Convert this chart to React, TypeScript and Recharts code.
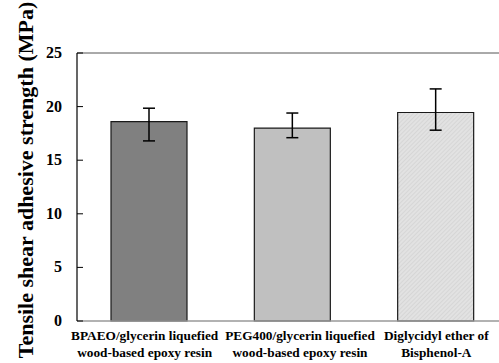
import { BarChart, Bar, XAxis, YAxis, ErrorBar, ReferenceLine, Cell } from 'recharts';

const categories = ['BPAEO', 'PEG400', 'DGEBA'];
const labelLine1 = ['BPAEO/glycerin liquefied', 'PEG400/glycerin liquefied', 'Diglycidyl ether of'];
const labelLine2 = ['wood-based epoxy resin', 'wood-based epoxy resin', 'Bisphenol-A'];
const strength = [18.6, 18.0, 19.45];
const errLow = [1.8, 0.9, 1.65];
const errHigh = [1.25, 1.4, 2.2];
const yTicks = [0, 5, 10, 15, 20, 25];

const fills = ['#808080', '#c0c0c0', 'url(#hatch)'];
// the original labels are not quite centred under their bars
const labelShift = [-4, 8, 1];

const data = categories.map((c, i) => ({
  name: c,
  value: strength[i],
  err: [errLow[i], errHigh[i]],
}));

const FONT = '"Liberation Serif", "Times New Roman", serif';

function XTick({ x, y, payload }: any) {
  const i = payload.index;
  const cx = x + labelShift[i];
  return (
    <g>
      <text x={cx} y={y + 11} textAnchor="middle" fontFamily={FONT} fontWeight="bold" fontSize={13.3} fill="#000">
        {labelLine1[i]}
      </text>
      <text x={cx} y={y + 28} textAnchor="middle" fontFamily={FONT} fontWeight="bold" fontSize={13.3} fill="#000">
        {labelLine2[i]}
      </text>
    </g>
  );
}

function YTick({ x, y, payload }: any) {
  return (
    <g>
      <line x1={x + 15} x2={x + 21} y1={y} y2={y} stroke="#000" strokeWidth={1} />
      <text x={x} y={y} dy={5} textAnchor="end" fontFamily={FONT} fontWeight="bold" fontSize={16} fill="#000">
        {payload.value}
      </text>
    </g>
  );
}

function YLabel() {
  return (
    <text
      transform="translate(33, 180) rotate(-90)"
      textAnchor="middle"
      fontFamily={FONT}
      fontWeight="bold"
      fontSize={22}
      fill="#000"
    >
      Tensile shear adhesive strength (MPa)
    </text>
  );
}

export default function App() {
  return (
    <div style={{ position: 'absolute', left: 0, top: 0, width: 499, height: 363, overflow: 'hidden', background: '#fff' }}>
      <BarChart
        width={510}
        height={363}
        data={data}
        margin={{ top: 53, right: 3, left: 0, bottom: 0 }}
      >
        <defs>
          <pattern id="hatch" width="3" height="3" patternUnits="userSpaceOnUse" patternTransform="rotate(45)">
            <rect width="3" height="3" fill="#e2e2e2" />
            <line x1="0" y1="0" x2="0" y2="3" stroke="#cacaca" strokeWidth="1" />
          </pattern>
        </defs>
        <XAxis
          dataKey="name"
          height={42}
          axisLine={{ stroke: '#999', strokeWidth: 1.5 }}
          tickLine={false}
          tick={<XTick />}
          interval={0}
        />
        <YAxis
          width={77}
          domain={[0, 25]}
          ticks={yTicks}
          axisLine={{ stroke: '#000', strokeWidth: 1.2 }}
          tickLine={false}
          tickSize={0}
          tickMargin={15}
          tick={<YTick />}
          label={<YLabel />}
        />
        <ReferenceLine y={25} stroke="#555" strokeWidth={1} />
        <Bar dataKey="value" barSize={76} stroke="#1a1a1a" strokeWidth={1.2} isAnimationActive={false}>
          {data.map((d, i) => (
            <Cell key={d.name} fill={fills[i]} />
          ))}
          <ErrorBar dataKey="err" width={6} stroke="#000" strokeWidth={1.5} />
        </Bar>
      </BarChart>
    </div>
  );
}
